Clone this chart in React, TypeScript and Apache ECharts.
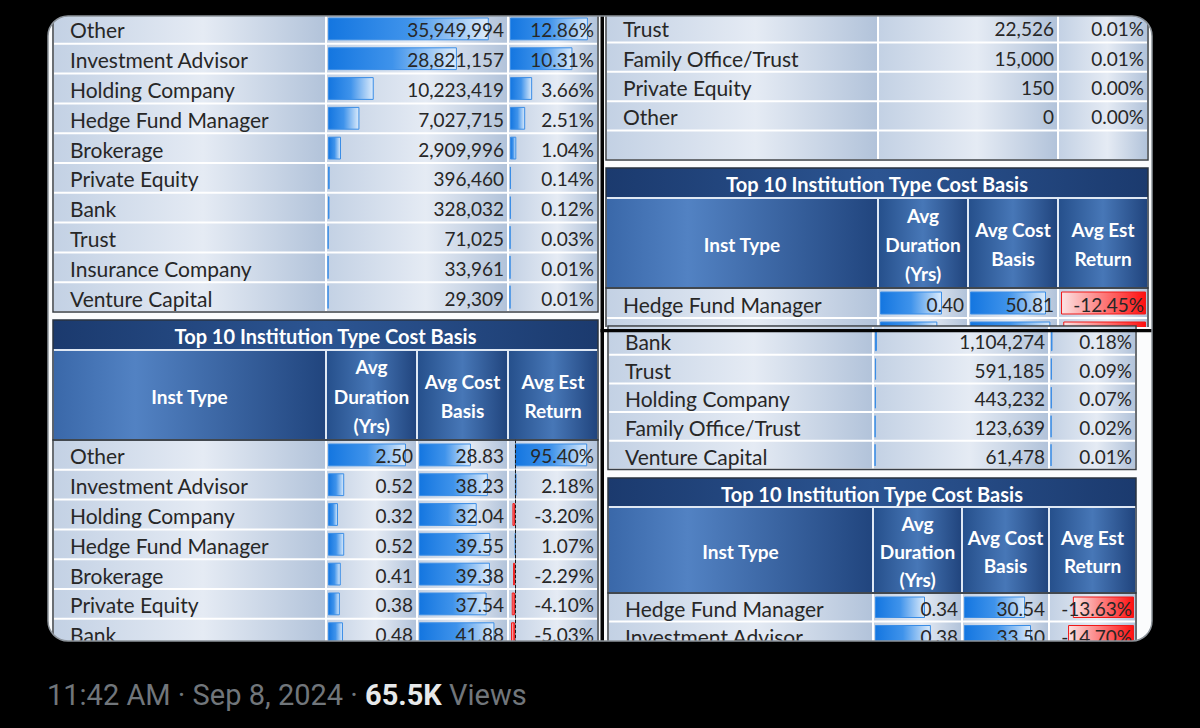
import React, { useEffect, useRef } from "react";
import * as echarts from "echarts";

// ---------------- data ----------------
const tlNames = ["Other", "Investment Advisor", "Holding Company", "Hedge Fund Manager", "Brokerage", "Private Equity", "Bank", "Trust", "Insurance Company", "Venture Capital"];
const tlShares = [35949994, 28821157, 10223419, 7027715, 2909996, 396460, 328032, 71025, 33961, 29309];
const tlPct = [12.86, 10.31, 3.66, 2.51, 1.04, 0.14, 0.12, 0.03, 0.01, 0.01];

const trNames = ["Trust", "Family Office/Trust", "Private Equity", "Other", ""];
const trShares: (number | null)[] = [22526, 15000, 150, 0, null];
const trPct: (number | null)[] = [0.01, 0.01, 0.0, 0.0, null];

const trCostNames = ["Hedge Fund Manager", "Investment Advisor"];
const trDur = [0.4, 0.37];
const trCost = [50.81, 53.73];
const trRet = [-12.45, -12.12];

const blNames = ["Other", "Investment Advisor", "Holding Company", "Hedge Fund Manager", "Brokerage", "Private Equity", "Bank"];
const blDur = [2.5, 0.52, 0.32, 0.52, 0.41, 0.38, 0.48];
const blCost = [28.83, 38.23, 32.04, 39.55, 39.38, 37.54, 41.88];
const blRet = [95.4, 2.18, -3.2, 1.07, -2.29, -4.1, -5.03];

const brNames = ["Bank", "Trust", "Holding Company", "Family Office/Trust", "Venture Capital"];
const brShares = [1104274, 591185, 443232, 123639, 61478];
const brPct = [0.18, 0.09, 0.07, 0.02, 0.01];

const brCostNames = ["Hedge Fund Manager", "Investment Advisor"];
const brDur = [0.34, 0.38];
const brCost = [30.54, 33.5];
const brRet = [-13.63, -14.7];

// data-bar scale extents (set by rows cropped out of the screenshot)
const tlSharesScale = [0, 39.8e6];
const tlPctScale = [0, 14.2];
const trDurScale = [0, 0.555];
const trCostScale = [0, 57.5];
const trRetScale = [-12.6, 0];
const blDurScale = [0, 2.79];
const blCostScale = [0, 48.3];
const blRetScale = [-6.4, 107];
const brSharesScale = [0, 95e6];
const brPctScale = [0, 10];
const brDurScale = [0, 0.578];
const brCostScale = [0, 41.5];
const brRetScale = [-18.5, 0];

const tableTitle = "Top 10 Institution Type Cost Basis";
const headerLabels = ["Inst Type", "Avg\nDuration\n(Yrs)", "Avg Cost\nBasis", "Avg Est\nReturn"];
const footerTime = "11:42 AM · Sep 8, 2024 · ";
const footerViews = "65.5K";
const footerViewsLabel = " Views";

// ---------------- helpers ----------------
const FONT = "Lato";
const NAME_SIZE = 21;
const NUM_SIZE = 19;
const TEXT_COLOR = "#272727";
const lg = (stops: [number, string][]) =>
  new echarts.graphic.LinearGradient(0, 0, 1, 0, stops.map(([offset, color]) => ({ offset, color })));

const fmtInt = (v: number) => v.toLocaleString("en-US");
const fmtPct = (v: number) => v.toFixed(2) + "%";
const fmt2 = (v: number) => v.toFixed(2);

const R = 20;
echarts.graphic.registerShape("cornerTL", echarts.graphic.extendPath(`M0 0 L${R} 0 A${R} ${R} 0 0 0 0 ${R} Z`, {}));
echarts.graphic.registerShape("cornerTR", echarts.graphic.extendPath(`M${R} 0 L0 0 A${R} ${R} 0 0 1 ${R} ${R} Z`, {}));
echarts.graphic.registerShape("cornerBL", echarts.graphic.extendPath(`M0 ${R} L0 0 A${R} ${R} 0 0 0 ${R} ${R} Z`, {}));
echarts.graphic.registerShape("cornerBR", echarts.graphic.extendPath(`M${R} ${R} L${R} 0 A${R} ${R} 0 0 1 0 ${R} Z`, {}));

interface Out { graphic: any[]; grid: any[]; xAxis: any[]; yAxis: any[]; series: any[] }
interface Col { values: (number | null)[]; fmt: (v: number) => string; scale?: number[]; zeroLine?: boolean }
interface Table { cols: number[]; top: number; rowH: number; names: string[]; data: Col[]; z: number }
interface Header { cols: number[]; titleTop: number; titleH: number; headH: number; lineH: number; z: number }

const cellGrad = () => lg([[0, "#c3d1e4"], [0.55, "#e5ebf4"], [1, "#b2c3da"]]);
const blueBar = () => lg([[0, "#1476e0"], [0.5, "#3f93eb"], [1, "#dcebfb"]]);
const redBar = () => lg([[0, "#fbe3e3"], [1, "#ff1010"]]);

function addTable(o: Out, t: Table) {
  const n = t.names.length;
  const x0 = t.cols[0];
  const x1 = t.cols[t.cols.length - 1];
  o.graphic.push({ type: "rect", z: t.z, silent: true, shape: { x: x0, y: t.top, width: x1 - x0, height: n * t.rowH }, style: { fill: "#ffffff" } });
  for (let r = 0; r < n; r++) {
    const y0 = t.top + r * t.rowH;
    for (let c = 0; c < t.cols.length - 1; c++) {
      const a = t.cols[c], b = t.cols[c + 1];
      o.graphic.push({ type: "rect", z: t.z, silent: true, shape: { x: a + 1, y: y0 + 1, width: b - a - 2, height: t.rowH - 2 }, style: { fill: cellGrad() } });
    }
    o.graphic.push({
      type: "text", z: t.z + 4, silent: true, x: x0 + 17, y: y0 + t.rowH / 2 + 1,
      style: { text: t.names[r], fill: TEXT_COLOR, fontSize: NAME_SIZE, fontFamily: FONT, align: "left", verticalAlign: "middle" },
    });
    t.data.forEach((col, c) => {
      const v = col.values[r];
      if (v == null) return;
      o.graphic.push({
        type: "text", z: t.z + 4, silent: true, x: t.cols[c + 2] - 4, y: y0 + t.rowH / 2 + 1,
        style: { text: col.fmt(v), fill: TEXT_COLOR, fontSize: NUM_SIZE, fontFamily: FONT, align: "right", verticalAlign: "middle" },
      });
    });
  }
  o.graphic.push({ type: "rect", z: t.z + 5, silent: true, shape: { x: x0, y: t.top, width: x1 - x0, height: n * t.rowH }, style: { fill: "none", stroke: "#3a3f46", lineWidth: 1.5 } });

  t.data.forEach((col, c) => {
    if (!col.scale) return;
    const gi = o.grid.length;
    const a = t.cols[c + 1], b = t.cols[c + 2];
    o.grid.push({ left: a + 2, top: t.top, width: b - a - 4, height: n * t.rowH, containLabel: false, show: false });
    o.xAxis.push({ type: "value", gridIndex: gi, min: col.scale[0], max: col.scale[1], show: false, splitLine: { show: false } });
    o.yAxis.push({
      type: "category", gridIndex: gi, inverse: true, data: t.names.map((_, i) => String(i)),
      show: !!col.zeroLine, z: t.z + 3,
      axisLine: { show: !!col.zeroLine, onZero: true, lineStyle: { color: "#1a1a1a", type: [3, 2], width: 1 } },
      axisTick: { show: false }, axisLabel: { show: false }, splitLine: { show: false },
    });
    o.series.push({
      type: "bar", xAxisIndex: gi, yAxisIndex: gi, barWidth: t.rowH - 7, z: t.z + 2, silent: true,
      data: col.values.map((v) =>
        v == null ? null : {
          value: v,
          itemStyle: v < 0
            ? { color: redBar(), borderColor: "#f01818", borderWidth: 1 }
            : { color: blueBar(), borderColor: "#3a8de6", borderWidth: 1 },
        }),
    });
  });
}

function addHeader(o: Out, h: Header) {
  const x0 = h.cols[0];
  const x1 = h.cols[h.cols.length - 1];
  const headTop = h.titleTop + h.titleH;
  o.graphic.push({ type: "rect", z: h.z, silent: true, shape: { x: x0, y: h.titleTop, width: x1 - x0, height: h.titleH + h.headH }, style: { fill: "#dfe8f4" } });
  o.graphic.push({ type: "rect", z: h.z, silent: true, shape: { x: x0, y: h.titleTop, width: x1 - x0, height: h.titleH - 1 }, style: { fill: lg([[0, "#1b3a6e"], [0.5, "#2c5592"], [1, "#1b3a6e"]]) } });
  o.graphic.push({
    type: "text", z: h.z + 4, silent: true, x: (x0 + x1) / 2, y: h.titleTop + h.titleH / 2 + 1,
    style: { text: tableTitle, fill: "#ffffff", fontSize: 20, fontWeight: "bold", fontFamily: FONT, align: "center", verticalAlign: "middle" },
  });
  for (let c = 0; c < h.cols.length - 1; c++) {
    const a = h.cols[c], b = h.cols[c + 1];
    const fill = c === 0
      ? lg([[0, "#3a68a9"], [0.3, "#5282c3"], [1, "#21457e"]])
      : lg([[0, "#26508c"], [0.5, "#4777b7"], [1, "#21457e"]]);
    o.graphic.push({ type: "rect", z: h.z, silent: true, shape: { x: a + 1, y: headTop + 1, width: b - a - 2, height: h.headH - 2 }, style: { fill } });
    o.graphic.push({
      type: "text", z: h.z + 4, silent: true, x: (a + b) / 2, y: headTop + h.headH / 2 + 1,
      style: { text: headerLabels[c], fill: "#ffffff", fontSize: 19, fontWeight: "bold", fontFamily: FONT, align: "center", verticalAlign: "middle", lineHeight: h.lineH },
    });
  }
  o.graphic.push({ type: "rect", z: h.z + 5, silent: true, shape: { x: x0, y: h.titleTop, width: x1 - x0, height: h.titleH + h.headH }, style: { fill: "none", stroke: "#2a3340", lineWidth: 1.5 } });
}

function buildOption() {
  const o: Out = { graphic: [], grid: [], xAxis: [], yAxis: [], series: [] };
  const CX0 = 48, CY0 = 16, CX1 = 1152, CY1 = 641;

  o.graphic.push({ type: "rect", z: 0, silent: true, shape: { x: CX0, y: CY0, width: CX1 - CX0, height: CY1 - CY0 }, style: { fill: "#fbfcfd" } });

  // top-left: shares table
  addTable(o, {
    cols: [53, 326, 508, 598], top: 14, rowH: 29.8, names: tlNames, z: 1,
    data: [
      { values: tlShares, fmt: fmtInt, scale: tlSharesScale },
      { values: tlPct, fmt: fmtPct, scale: tlPctScale },
    ],
  });

  // top-right: shares table tail
  addTable(o, {
    cols: [606, 878, 1058, 1148], top: 13, rowH: 29.4, names: trNames, z: 1,
    data: [
      { values: trShares, fmt: fmtInt },
      { values: trPct, fmt: fmtPct },
    ],
  });

  // top-right: cost basis table
  addHeader(o, { cols: [606, 878, 968, 1058, 1148], titleTop: 168, titleH: 30, headH: 90, lineH: 29, z: 1 });
  addTable(o, {
    cols: [606, 878, 968, 1058, 1148], top: 288, rowH: 30, names: trCostNames, z: 1,
    data: [
      { values: trDur, fmt: fmt2, scale: trDurScale },
      { values: trCost, fmt: fmt2, scale: trCostScale },
      { values: trRet, fmt: fmtPct, scale: trRetScale },
    ],
  });

  // bottom-left: cost basis table
  addHeader(o, { cols: [53, 326, 417, 508, 598], titleTop: 320, titleH: 30, headH: 90, lineH: 29.5, z: 1 });
  addTable(o, {
    cols: [53, 326, 417, 508, 598], top: 440, rowH: 29.8, names: blNames, z: 1,
    data: [
      { values: blDur, fmt: fmt2, scale: blDurScale },
      { values: blCost, fmt: fmt2, scale: blCostScale },
      { values: blRet, fmt: fmtPct, scale: blRetScale, zeroLine: true },
    ],
  });

  // bottom-right panel (screenshot pasted over the top-right one)
  o.graphic.push({ type: "rect", z: 9, silent: true, shape: { x: 602, y: 327, width: CX1 - 602, height: CY1 - 327 }, style: { fill: "#fbfcfd" } });
  addTable(o, {
    cols: [608, 873, 1049, 1136], top: 326, rowH: 28.7, names: brNames, z: 10,
    data: [
      { values: brShares, fmt: fmtInt, scale: brSharesScale },
      { values: brPct, fmt: fmtPct, scale: brPctScale },
    ],
  });
  addHeader(o, { cols: [608, 873, 962, 1049, 1136], titleTop: 478, titleH: 29, headH: 86, lineH: 28, z: 10 });
  addTable(o, {
    cols: [608, 873, 962, 1049, 1136], top: 593, rowH: 28.5, names: brCostNames, z: 10,
    data: [
      { values: brDur, fmt: fmt2, scale: brDurScale },
      { values: brCost, fmt: fmt2, scale: brCostScale },
      { values: brRet, fmt: fmtPct, scale: brRetScale },
    ],
  });

  // collage dividers
  o.graphic.push({ type: "rect", z: 20, silent: true, shape: { x: 600.5, y: CY0, width: 3.5, height: CY1 - CY0 }, style: { fill: "#050505" } });
  o.graphic.push({ type: "rect", z: 20, silent: true, shape: { x: 600.5, y: 329, width: CX1 - 600.5, height: 3.2 }, style: { fill: "#050505" } });

  // frame masks
  const black = { fill: "#000000" };
  o.graphic.push({ type: "rect", z: 50, silent: true, shape: { x: 0, y: 0, width: 1200, height: CY0 }, style: black });
  o.graphic.push({ type: "rect", z: 50, silent: true, shape: { x: 0, y: CY1, width: 1200, height: 728 - CY1 }, style: black });
  o.graphic.push({ type: "rect", z: 50, silent: true, shape: { x: 0, y: 0, width: CX0, height: 728 }, style: black });
  o.graphic.push({ type: "rect", z: 50, silent: true, shape: { x: CX1, y: 0, width: 1200 - CX1, height: 728 }, style: black });
  o.graphic.push({ type: "cornerTL", z: 50, silent: true, x: CX0, y: CY0, style: black });
  o.graphic.push({ type: "cornerTR", z: 50, silent: true, x: CX1 - R, y: CY0, style: black });
  o.graphic.push({ type: "cornerBL", z: 50, silent: true, x: CX0, y: CY1 - R, style: black });
  o.graphic.push({ type: "cornerBR", z: 50, silent: true, x: CX1 - R, y: CY1 - R, style: black });
  o.graphic.push({ type: "rect", z: 51, silent: true, shape: { x: CX0, y: CY0, width: CX1 - CX0, height: CY1 - CY0, r: R }, style: { fill: "none", stroke: "#8d949b", lineWidth: 1.5 } });

  // footer
  o.graphic.push({
    type: "text", z: 52, silent: true, x: 47, y: 695,
    style: {
      text: `{a|${footerTime}}{b|${footerViews}}{a|${footerViewsLabel}}`,
      verticalAlign: "middle", align: "left",
      rich: {
        a: { fill: "#71767b", fontSize: 29, fontFamily: "Roboto" },
        b: { fill: "#e7e9ea", fontSize: 29, fontFamily: "Roboto", fontWeight: "bold" },
      },
    },
  });

  return {
    animation: false,
    backgroundColor: "#000000",
    grid: o.grid,
    xAxis: o.xAxis,
    yAxis: o.yAxis,
    series: o.series,
    graphic: { elements: o.graphic },
  };
}

export default function App() {
  const ref = useRef<HTMLDivElement>(null);
  useEffect(() => {
    document.body.style.margin = "0";
    document.body.style.background = "#000";
    const chart = echarts.init(ref.current!, null, { renderer: "svg" });
    chart.setOption(buildOption() as any);
    return () => chart.dispose();
  }, []);
  return <div ref={ref} style={{ width: 1200, height: 728, background: "#000" }} />;
}
